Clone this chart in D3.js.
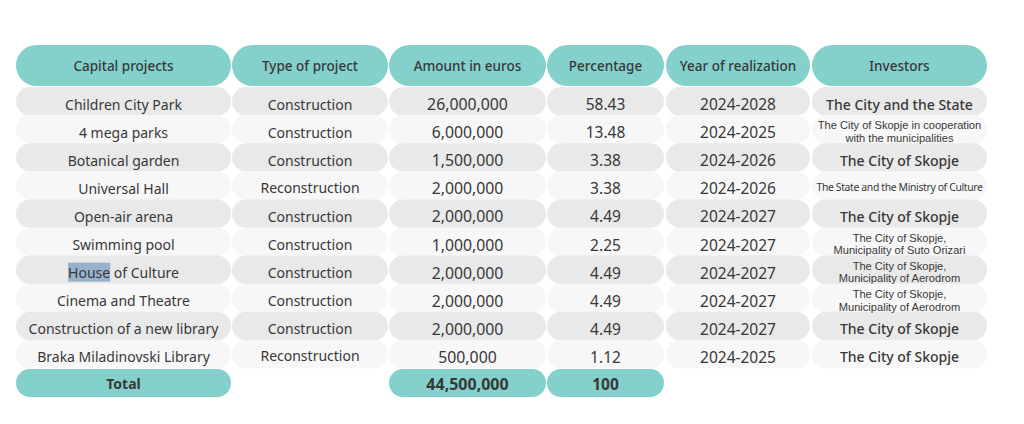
<!DOCTYPE html>
<html><head><meta charset="utf-8">
<script src="https://cdn.jsdelivr.net/npm/d3@7"></script>
<style>html,body{margin:0;padding:0;background:#fff;}svg{display:block;}</style>
</head><body>
<svg id="c" width="1024" height="424"></svg>
<script>
const headers = ["Capital projects","Type of project","Amount in euros","Percentage","Year of realization","Investors"];
const projects = ["Children City Park","4 mega parks","Botanical garden","Universal Hall","Open-air arena","Swimming pool","House of Culture","Cinema and Theatre","Construction of a new library","Braka Miladinovski Library"];
const types = ["Construction","Construction","Construction","Reconstruction","Construction","Construction","Construction","Construction","Construction","Reconstruction"];
const amounts = [26000000,6000000,1500000,2000000,2000000,1000000,2000000,2000000,2000000,500000];
const percentages = ["58.43","13.48","3.38","3.38","4.49","2.25","4.49","4.49","4.49","1.12"];
const years = ["2024-2028","2024-2025","2024-2026","2024-2026","2024-2027","2024-2027","2024-2027","2024-2027","2024-2027","2024-2025"];
const investors = [
  ["The City and the State"],
  ["The City of Skopje in cooperation","with the municipalities"],
  ["The City of Skopje"],
  ["The State and the Ministry of Culture"],
  ["The City of Skopje"],
  ["The City of Skopje,","Municipality of Suto Orizari"],
  ["The City of Skopje,","Municipality of Aerodrom"],
  ["The City of Skopje,","Municipality of Aerodrom"],
  ["The City of Skopje"],
  ["The City of Skopje"]
];
const totalLabel = "Total";
const totalAmount = 44500000;
const totalPercentage = "100";

// layout
const colEdges = [[16,231],[232,388],[389,546],[547,664],[666,810],[812,987]];
const FONT = "'Noto Sans', sans-serif";
const SMALL_FONT = "'Liberation Sans', Arial, sans-serif";
const TEXT = "#383838", TEAL = "#84d0ca", ODD = "#e9e9e9", EVEN = "#f7f7f7";
const fmt = d3.format(",");
const BODY_DY = 3;

const svg = d3.select("#c");
const y = d3.scaleBand().domain(d3.range(projects.length)).range([87, 368]).paddingInner(0);
const rowH = y.bandwidth();

function pill(g, x0, x1, y0, h, fill){
  g.append("rect").attr("x", x0).attr("y", y0).attr("width", x1 - x0).attr("height", h)
   .attr("rx", h/2).attr("ry", h/2).attr("fill", fill);
}
function label(g, x, cy, t, size, weight){
  return g.append("text").attr("x", x).attr("y", cy).attr("text-anchor","middle")
   .attr("dominant-baseline","central").attr("font-family", FONT).attr("font-size", size)
   .attr("font-weight", weight||400).attr("fill", TEXT).text(t);
}

// header
const hg = svg.append("g");
headers.forEach((h, i) => {
  const [a, b] = colEdges[i];
  pill(hg, a, b, 45, 41, TEAL);
  label(hg, (a+b)/2, 66.2, h, 13.5, 500);
});

// body rows
const rows = projects.map((p, i) => ({p, t: types[i], a: amounts[i], pc: percentages[i], yr: years[i], inv: investors[i]}));
const bg = svg.append("g");
rows.forEach((r, i) => {
  const fill = i % 2 === 0 ? ODD : EVEN;
  colEdges.forEach(([a, b]) => pill(bg, a, b, y(i), rowH + 0.5, fill));
});
const tg = svg.append("g");
rows.forEach((r, i) => {
  const cy = y(i) + rowH/2 + BODY_DY;
  const cx = colEdges.map(([a,b]) => (a+b)/2);
  const ptext = label(tg, cx[0], cy, r.p, 14, 400);
  if (r.p === "House of Culture") {
    // text-selection highlight on "House"
    const node = ptext.node();
    const e0 = node.getExtentOfChar(0), e4 = node.getExtentOfChar(4);
    tg.insert("rect", "text").attr("x", e0.x).attr("y", cy - 10)
      .attr("width", e4.x + e4.width - e0.x).attr("height", 19).attr("fill", "#97b2cb");
  }
  label(tg, cx[1], cy - (r.t === "Reconstruction" ? 1 : 0), r.t, 14, 400);
  label(tg, cx[2], cy, fmt(r.a), 15.8, 400);
  label(tg, cx[3], cy, r.pc, 15.5, 400);
  label(tg, cx[4], cy, r.yr, 15.5, 400);
  if (r.inv.length === 1) {
    const t = r.inv[0];
    if (t.length > 30) label(tg, cx[5], cy - 1.5, t, 10.4, 400).attr("letter-spacing", -0.35);
    else label(tg, cx[5], cy, t, 14, 500);
  } else {
    label(tg, cx[5], cy - 6.8, r.inv[0], 11.1, 400).attr("font-family", SMALL_FONT);
    label(tg, cx[5], cy + 5.8, r.inv[1], 11.1, 400).attr("font-family", SMALL_FONT);
  }
});

// total row
const fg = svg.append("g");
const ty = 369, th = 28;
[[0, totalLabel, 14],[2, fmt(totalAmount), 16],[3, totalPercentage, 15.5]].forEach(([ci, t, s]) => {
  const [a, b] = colEdges[ci];
  pill(fg, a, b, ty, th, TEAL);
  label(fg, (a+b)/2, ty + th/2 + 0.5, t, s, 700);
});
</script>
</body></html>
